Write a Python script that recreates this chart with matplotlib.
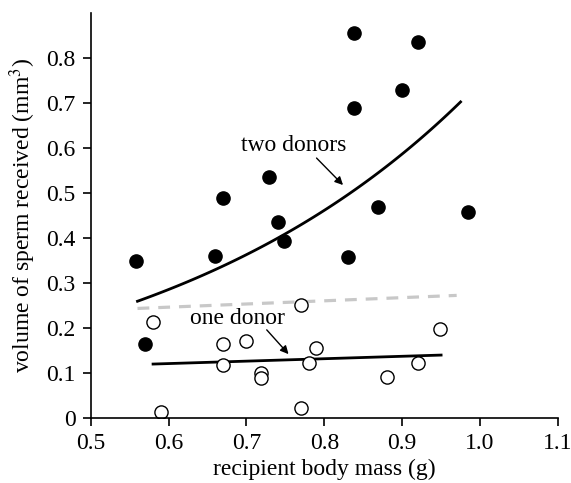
import numpy as np
import matplotlib
matplotlib.use("Agg")
import matplotlib.pyplot as plt

plt.rcParams['font.family'] = ['Liberation Serif', 'DejaVu Serif']
plt.rcParams['mathtext.fontset'] = 'stix'

# two donors (filled)
two_x = [0.558, 0.569, 0.659, 0.670, 0.729, 0.740, 0.748, 0.830, 0.838, 0.838, 0.869, 0.900, 0.920, 0.985]
two_y = [0.350, 0.165, 0.360, 0.489, 0.535, 0.436, 0.393, 0.358, 0.855, 0.689, 0.469, 0.729, 0.836, 0.458]
# one donor (open)
one_x = [0.580, 0.590, 0.670, 0.670, 0.699, 0.719, 0.719, 0.770, 0.770, 0.789, 0.780, 0.880, 0.920, 0.949]
one_y = [0.213, 0.013, 0.164, 0.118, 0.171, 0.100, 0.090, 0.251, 0.022, 0.156, 0.122, 0.091, 0.122, 0.198]

# fitted curves: exponential fit for two donors, linear for one donor and pooled (grey dashed)
two_fit_range = [0.56, 0.975]
two_fit_ab = [0.0677, 2.40]      # y = a*exp(b*x)
one_fit_range = [0.58, 0.95]
one_fit_line = [0.0886, 0.054]   # y = c + m*x
grey_fit_range = [0.56, 0.97]
grey_fit_line = [0.204, 0.0707]

xticks = [0.5, 0.6, 0.7, 0.8, 0.9, 1.0, 1.1]
xticklabels = ['0.5', '0.6', '0.7', '0.8', '0.9', '1.0', '1.1']
yticks = [0, 0.1, 0.2, 0.3, 0.4, 0.5, 0.6, 0.7, 0.8]
yticklabels = ['0', '0.1', '0.2', '0.3', '0.4', '0.5', '0.6', '0.7', '0.8']

FS = 17
fig = plt.figure(figsize=(5.71, 4.83), dpi=100)
ax = fig.add_axes([0.159, 0.1346, 0.818, 0.838])

xs = np.linspace(*two_fit_range, 100)
ax.plot(xs, two_fit_ab[0] * np.exp(two_fit_ab[1] * xs), color='black', lw=2)
xs = np.linspace(*grey_fit_range, 2)
ax.plot(xs, grey_fit_line[0] + grey_fit_line[1] * xs, color='#c8c8c8', lw=2.3, dashes=(3.7, 2.8))
xs = np.linspace(*one_fit_range, 2)
ax.plot(xs, one_fit_line[0] + one_fit_line[1] * xs, color='black', lw=2)

ax.plot(two_x, two_y, 'o', ms=9.5, mfc='black', mec='black', mew=1, ls='none')
ax.plot(one_x, one_y, 'o', ms=9.5, mfc='white', mec='black', mew=1, ls='none')

arrow = dict(arrowstyle='-|>', color='black', lw=1, mutation_scale=12, shrinkA=0, shrinkB=0)
ax.text(0.761, 0.607, 'two donors', ha='center', va='center', fontsize=FS)
ax.annotate('', xy=(0.824, 0.518), xytext=(0.790, 0.578), arrowprops=arrow)
ax.text(0.689, 0.222, 'one donor', ha='center', va='center', fontsize=FS)
ax.annotate('', xy=(0.754, 0.142), xytext=(0.726, 0.196), arrowprops=arrow)

ax.set_xlim(0.5, 1.1)
ax.set_ylim(0, 0.9)
ax.set_xticks(xticks)
ax.set_xticklabels(xticklabels)
ax.set_yticks(yticks)
ax.set_yticklabels(yticklabels)
ax.tick_params(direction='out', length=6, width=1.2, labelsize=FS, colors='black')
ax.tick_params(axis='y', pad=5)
ax.tick_params(axis='x', pad=5)
for s in ['top', 'right']:
    ax.spines[s].set_visible(False)
for s in ['left', 'bottom']:
    ax.spines[s].set_linewidth(1.2)

ax.set_xlabel('recipient body mass (g)', fontsize=FS, labelpad=3)
ax.set_ylabel('volume of sperm received (mm$^3$)', fontsize=FS, labelpad=6)

fig.savefig('out.png', dpi=100)
